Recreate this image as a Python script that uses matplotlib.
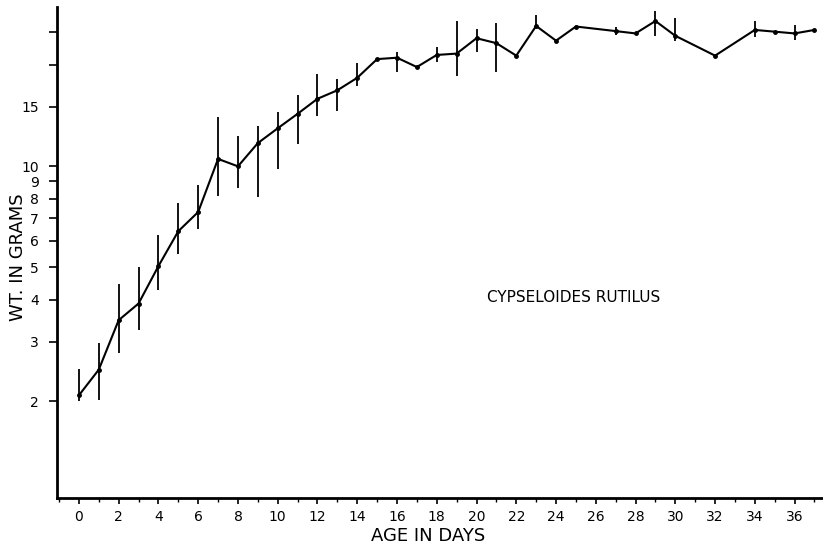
import numpy as np
import matplotlib
matplotlib.use("Agg")
import matplotlib.pyplot as plt
from matplotlib.ticker import FixedLocator, FixedFormatter, NullFormatter

# Data
days = [0, 1, 2, 3, 4, 5, 6, 7, 8, 9, 10, 11, 12, 13, 14, 15, 16, 17, 18, 19,
        20, 21, 22, 23, 24, 25, 27, 28, 29, 30, 32, 34, 35, 36, 37]
weight = [2.08, 2.48, 3.48, 3.90, 5.04, 6.4, 7.3, 10.5, 9.98, 11.7, 12.95, 14.3,
          15.85, 16.8, 18.3, 20.8, 21.0, 19.7, 21.4, 21.6, 24.0, 23.2, 21.3, 26.1,
          23.6, 26.0, 25.2, 24.8, 27.0, 24.4, 21.3, 25.4, 25.1, 24.8, 25.4]
err_low = [2.0, 2.02, 2.78, 3.25, 4.28, 5.49, 6.5, 8.12, 8.6, 8.1, 9.8, 11.6,
           14.1, 14.6, 17.3, None, 19.0, None, 20.4, 18.5, 21.9, 19.0, None, 25.8,
           None, None, 24.6, None, 24.3, 23.6, None, 24.2, None, 23.7, None]
err_high = [2.49, 2.98, 4.45, 5.0, 6.23, 7.76, 8.76, 14.0, 12.3, 13.2, 14.5, 16.3,
            18.8, 18.2, 20.2, None, 21.8, None, 22.6, 27.0, 25.6, 26.7, None, 28.1,
            None, None, 25.9, None, 29.0, 27.6, None, 27.0, None, 26.2, None]

y_ticks = [2, 3, 4, 5, 6, 7, 8, 9, 10, 15, 20, 25]
y_tick_labels = ["2", "3", "4", "5", "6", "7", "8", "9", "10", "15", "", ""]
x_major = list(range(0, 37, 2))
x_minor = list(range(-1, 38))

species = "CYPSELOIDES RUTILUS"
xlabel = "AGE IN DAYS"
ylabel = "WT. IN GRAMS"

fig = plt.figure(figsize=(8.23, 5.46), dpi=100)
ax = fig.add_axes([0.0693, 0.088, 0.93, 0.899])

ax.set_yscale("log")
ax.set_ylim(1.03, 29.7)
ax.set_xlim(-1.1, 37.4)

# error bars
ex, elo, ehi = [], [], []
for d, lo, hi in zip(days, err_low, err_high):
    if lo is not None and hi is not None:
        ex.append(d); elo.append(lo); ehi.append(hi)
ax.vlines(ex, elo, ehi, colors="black", linewidth=1.3)

ax.plot(days, weight, color="black", linewidth=1.5, marker="o", markersize=2.5)

# ticks
ax.yaxis.set_major_locator(FixedLocator(y_ticks))
ax.yaxis.set_major_formatter(FixedFormatter(y_tick_labels))
ax.yaxis.set_minor_locator(FixedLocator([]))
ax.yaxis.set_minor_formatter(NullFormatter())
ax.xaxis.set_major_locator(FixedLocator(x_major))
ax.xaxis.set_minor_locator(FixedLocator(x_minor))

ax.tick_params(axis="y", which="major", direction="out", length=6, width=1.2,
               labelsize=10, pad=7)
ax.tick_params(axis="x", which="major", direction="out", length=4, width=1.2,
               labelsize=10, pad=5)
ax.tick_params(axis="x", which="minor", direction="out", length=3, width=1.0)

for s in ["top", "right"]:
    ax.spines[s].set_visible(False)
ax.spines["left"].set_linewidth(2.0)
ax.spines["bottom"].set_linewidth(2.0)

fig.text(428 / 823, 1 - 536 / 546, xlabel, fontsize=13, ha="center", va="center")

fig.text(18 / 823, 1 - 257 / 546, ylabel, fontsize=13, rotation=90,
         ha="center", va="center")

ax.text(574 / 823, 1 - 297 / 546, species, transform=fig.transFigure,
        fontsize=11, ha="center", va="center")

fig.savefig("out.png", dpi=100)
